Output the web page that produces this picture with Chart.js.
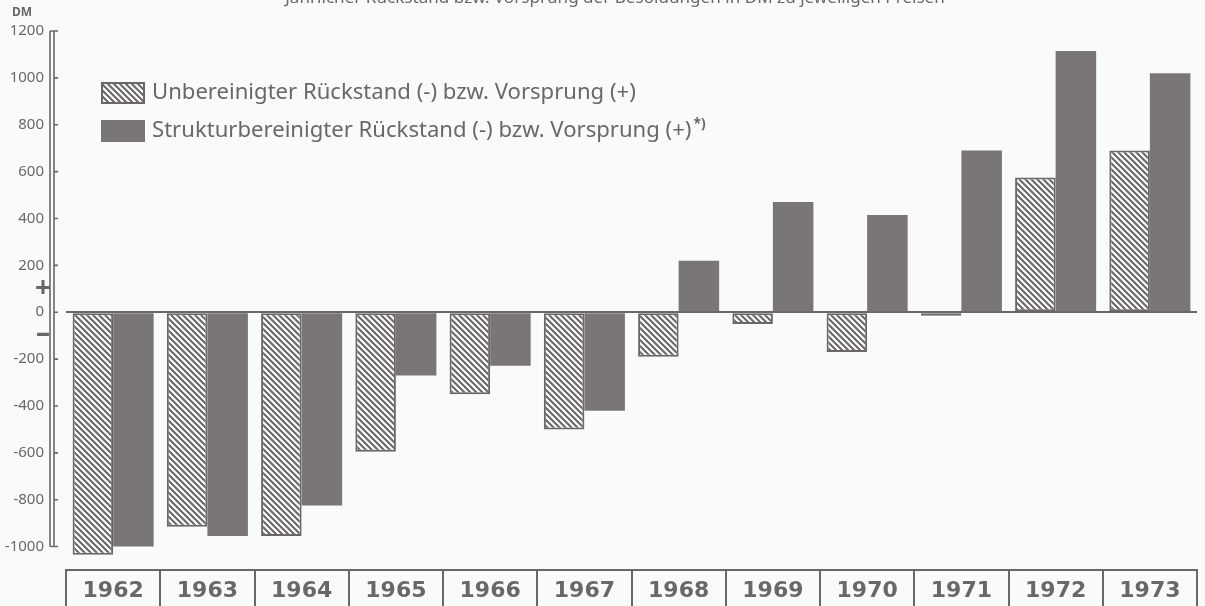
<!DOCTYPE html>
<html>
<head>
<meta charset="utf-8">
<script src="https://cdn.jsdelivr.net/npm/chart.js@4.4.1/dist/chart.umd.min.js"></script>
<style>
  html, body { margin: 0; padding: 0; background: #f9fbfb; }
  #wrap { width: 1205px; height: 606px; position: relative; }
</style>
</head>
<body>
<div id="wrap"><canvas id="chart" width="1205" height="606"></canvas></div>
<script>
const years = ["1962", "1963", "1964", "1965", "1966", "1967", "1968", "1969", "1970", "1971", "1972", "1973"];
const unbereinigt = [-1035, -915, -955, -595, -350, -500, -190, -50, -170, -15, 575, 690];
const strukturbereinigt = [-1000, -955, -825, -270, -228, -420, 220, 470, 415, 690, 1115, 1020];
const tickValues = [-1000, -800, -600, -400, -200, 0, 200, 400, 600, 800, 1000, 1200];
const seriesLabels = [
  "Unbereinigter Rückstand (-) bzw. Vorsprung (+)",
  "Strukturbereinigter Rückstand (-) bzw. Vorsprung (+)"
];
const titleText = "Jährlicher Rückstand bzw. Vorsprung der Besoldungen in DM zu jeweiligen Preisen";

const ink = "#6b6767";
const barGray = "#7a7676";

// diagonal hatch like the printed original
function makeHatch() {
  const s = 6;
  const c = document.createElement("canvas");
  c.width = s; c.height = s;
  const g = c.getContext("2d");
  g.fillStyle = "#ffffff";
  g.fillRect(0, 0, s, s);
  g.strokeStyle = ink;
  g.lineWidth = 2.1;
  g.beginPath();
  g.moveTo(0, 0); g.lineTo(s, s);
  g.moveTo(-2, s - 2); g.lineTo(2, s + 2);
  g.moveTo(s - 2, -2); g.lineTo(s + 2, 2);
  g.stroke();
  return g.createPattern(c, "repeat");
}
const hatch = makeHatch();

const fontFamily = "'Noto Sans', 'DejaVu Sans', sans-serif";

function fitFont(ctx, text, weight, targetWidth) {
  ctx.font = weight + " 20px " + fontFamily;
  const w = ctx.measureText(text).width;
  return 20 * targetWidth / w;
}

const decorations = {
  id: "decorations",
  afterDraw(chart) {
    const ctx = chart.ctx;
    const y = chart.scales.y;
    ctx.save();

    // y axis as a double line with small tick marks
    const yTop = y.getPixelForValue(1200);
    const yBot = y.getPixelForValue(-1000);
    ctx.strokeStyle = ink;
    ctx.lineWidth = 1.6;
    ctx.beginPath();
    ctx.moveTo(50, yTop); ctx.lineTo(50, yBot);
    ctx.moveTo(54, yTop); ctx.lineTo(54, yBot);
    ctx.moveTo(50, yTop); ctx.lineTo(58, yTop);
    ctx.moveTo(50, yBot); ctx.lineTo(58, yBot);
    tickValues.forEach(v => {
      const py = y.getPixelForValue(v);
      ctx.moveTo(54, py); ctx.lineTo(58, py);
    });
    ctx.stroke();

    // unit and sign marks
    ctx.fillStyle = ink;
    ctx.textAlign = "center";
    ctx.textBaseline = "middle";
    ctx.font = "bold 12px " + fontFamily;
    ctx.fillText("DM", 22, 13);
    ctx.font = "bold 28px " + fontFamily;
    ctx.fillText("+", 43, y.getPixelForValue(98));
    ctx.fillText("\u2013", 43, y.getPixelForValue(-95));

    // legend
    ctx.textAlign = "left";
    const lx = 101, bw = 44, bh = 22;
    const legendRows = [
      { top: 82, fill: hatch, border: true },
      { top: 120, fill: barGray, border: false }
    ];
    const size = fitFont(ctx, seriesLabels[0], "normal", 485);
    legendRows.forEach((r, i) => {
      ctx.fillStyle = r.fill;
      ctx.fillRect(lx, r.top, bw, bh);
      if (r.border) {
        ctx.lineWidth = 2;
        ctx.strokeStyle = ink;
        ctx.strokeRect(lx + 1, r.top + 1, bw - 2, bh - 2);
      }
      ctx.fillStyle = ink;
      ctx.font = size.toFixed(1) + "px " + fontFamily;
      ctx.fillText(seriesLabels[i], 152, r.top + bh / 2);
      if (i === 1) {
        const w = ctx.measureText(seriesLabels[i]).width;
        ctx.font = "bold " + (size * 0.62).toFixed(1) + "px " + fontFamily;
        ctx.fillText("*)", 152 + w + 2, r.top + 4);
      }
    });

    // title, cut off at the top edge as in the scan
    const ts = fitFont(ctx, titleText, "normal", 660);
    ctx.font = ts.toFixed(1) + "px " + fontFamily;
    ctx.textAlign = "center";
    ctx.textBaseline = "alphabetic";
    ctx.fillText(titleText, 615, 3);

    ctx.restore();
  }
};

new Chart(document.getElementById("chart"), {
  type: "bar",
  data: {
    labels: years,
    datasets: [
      {
        label: seriesLabels[0],
        data: unbereinigt,
        backgroundColor: hatch,
        borderColor: ink,
        borderWidth: 2,
        borderSkipped: false,
        categoryPercentage: 0.86,
        barPercentage: 1.0
      },
      {
        label: seriesLabels[1],
        data: strukturbereinigt,
        backgroundColor: barGray,
        borderWidth: 0,
        categoryPercentage: 0.86,
        barPercentage: 1.0
      }
    ]
  },
  options: {
    responsive: false,
    animation: false,
    layout: { padding: { top: 31, right: 8, left: 0, bottom: 0 } },
    plugins: {
      legend: { display: false },
      tooltip: { enabled: false }
    },
    scales: {
      x: {
        grid: {
          display: true,
          offset: true,
          drawOnChartArea: false,
          drawTicks: true,
          tickLength: 36,
          color: ink,
          lineWidth: 2
        },
        border: { display: true, color: ink, width: 2 },
        ticks: {
          color: ink,
          font: { family: "'DejaVu Sans', sans-serif", size: 22, weight: "bold" },
          padding: -28,
          autoSkip: false,
          maxRotation: 0
        },
        afterFit(scale) { scale.height = 36; }
      },
      y: {
        min: -1100,
        max: 1200,
        ticks: {
          stepSize: 200,
          color: ink,
          padding: 22,
          font: { family: fontFamily, size: 15 },
          callback: v => String(v)
        },
        afterBuildTicks(scale) {
          scale.ticks = tickValues.map(v => ({ value: v }));
        },
        grid: {
          drawTicks: false,
          lineWidth: 2,
          color: ctx => (ctx.tick && ctx.tick.value === 0 ? ink : "rgba(0,0,0,0)")
        },
        border: { display: false },
        afterFit(scale) { scale.width = 66; }
      }
    }
  },
  plugins: [decorations]
});
</script>
</body>
</html>
